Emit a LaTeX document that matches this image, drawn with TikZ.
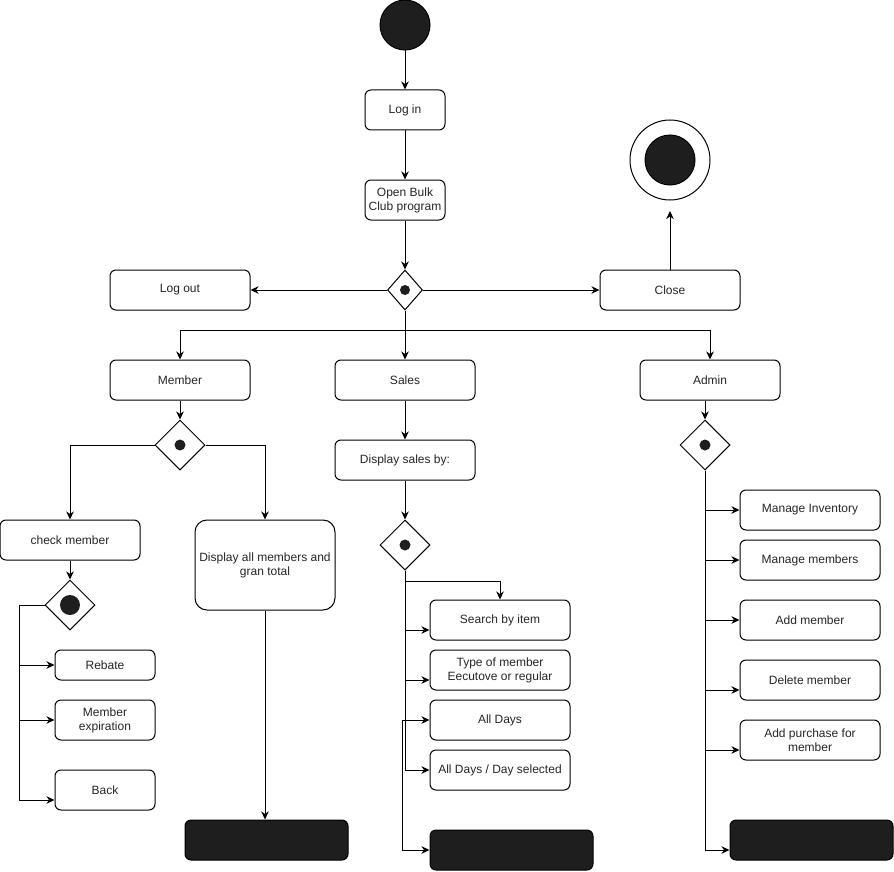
\documentclass[tikz,border=0pt]{standalone}
\usepackage{fontspec}
\setmainfont{Liberation Sans}
\usetikzlibrary{shapes.geometric,arrows.meta,calc}
\definecolor{ink}{HTML}{1E1E1E}
\definecolor{txt}{HTML}{262626}
\begin{document}
\begin{tikzpicture}[x=1pt,y=-1pt,line width=1pt,
  >={Stealth[length=8pt,width=7.5pt,inset=2.5pt]},
  act/.style={draw, rounded corners=6pt, fill=white, minimum width=140pt,
    minimum height=40pt, inner sep=1pt, align=center, text=txt,
    font=\fontsize{12}{14}\selectfont},
  stopbar/.style={draw, rounded corners=6pt, fill=ink, minimum width=163pt,
    minimum height=40pt, inner sep=0pt},
  decision/.style={diamond, draw, fill=white, inner sep=0pt,
    minimum width=50pt, minimum height=50pt},
  dot/.style={path picture={\fill[ink] (path picture bounding box.center) circle (#1);}},
  flow/.style={->}
]
\useasboundingbox (0,0) rectangle (894,872);

% start and end states
\node[circle, draw, fill=ink, minimum size=50pt, inner sep=0pt] (start) at (405,25) {};
\node[circle, draw, fill=white, minimum size=80pt, inner sep=0pt] (final) at (670,160) {};
\node[circle, draw, fill=ink, minimum size=50pt, inner sep=0pt] (finaldot) at (670,160) {};

% main sequence
\node[act, minimum width=80pt] (login) at (405,110) {Log in};
\node[act, minimum width=80pt] (open) at (405,200) {Open Bulk\\Club program};
\node[decision, minimum width=35pt, minimum height=40pt, dot=5pt] (menu) at (405,290) {};
\node[act] (logout) at (180,290) {Log out};
\node[act] (close) at (670,290) {Close};

% three areas
\node[act] (member) at (180,380) {Member};
\node[act] (sales) at (405,380) {Sales};
\node[act] (admin) at (710,380) {Admin};

% member area
\node[decision, dot=5.5pt] (mdec) at (180,445) {};
\node[act] (check) at (70,540) {check member};
\node[act, minimum height=90pt, rounded corners=12pt] (showall) at (265,565) {Display all members and\\gran total};
\node[decision, dot=10pt] (cdec) at (70,605) {};
\node[act, minimum width=100pt, minimum height=30pt] (rebate) at (105,665) {Rebate};
\node[act, minimum width=100pt] (expire) at (105,720) {Member\\expiration};
\node[act, minimum width=100pt] (back) at (105,790) {Back};
\node[stopbar] (mend) at (266.5,840) {};

% sales area
\node[act] (showsales) at (405,460) {Display sales by:};
\node[decision, dot=5.5pt] (sdec) at (405,545) {};
\node[act] (search) at (500,620) {Search by item};
\node[act] (mtype) at (500,670) {Type of member\\Eecutove or regular};
\node[act] (alldays) at (500,720) {All Days};
\node[act] (daysel) at (500,770) {All Days / Day selected};
\node[stopbar] (send) at (511.5,850) {};

% admin area
\node[decision, dot=5.5pt] (adec) at (705,445) {};
\node[act] (inventory) at (810,510) {Manage Inventory};
\node[act] (members) at (810,560) {Manage members};
\node[act] (addm) at (810,620) {Add member};
\node[act] (delm) at (810,680) {Delete member};
\node[act] (purchase) at (810,740) {Add purchase for\\member};
\node[stopbar] (aend) at (811.5,840) {};

% junction points
\coordinate (fork) at (405,330);
\coordinate (closetip) at (670,211);
\coordinate (srail) at (405,581);
\coordinate (loop) at (402.5,720);

% main sequence connectors
\draw[flow] (start) -- (login);
\draw[flow] (login) -- (open);
\draw[flow] (open) -- (menu);
\draw[flow] (menu.west) -- (logout.east);
\draw[flow] (menu.east) -- (close.west);
\draw[flow] (close.north) -- (closetip);
\draw[flow] (menu.south) -- (sales.north);
\draw[flow] (fork) -| (member.north);
\draw[flow] (fork) -| (admin.north);

% member connectors
\draw[flow] (member) -- (mdec);
\draw[flow] (mdec.west) -| (check.north);
\draw[flow] (mdec.east) -| (showall.north);
\draw[flow] (check) -- (cdec);
\draw[flow] (cdec.west) -- ++(-25,0) |- (rebate.west);
\draw[flow] (cdec.west) -- ++(-25,0) |- (expire.west);
\draw[flow] (cdec.west) -- ++(-25,0) |- ($(back.west)+(0,10)$);
\draw[flow] (showall.south) -- (showall.south |- mend.north);

% sales connectors
\draw[flow] (sales) -- (showsales);
\draw[flow] (showsales) -- (sdec);
\draw[flow] (srail) -| (search.north);
\draw[flow] (sdec.south) |- ($(search.west)+(0,10)$);
\draw[flow] (sdec.south) |- ($(mtype.west)+(0,10)$);
\draw[flow] (sdec.south) |- (daysel.west);
\draw[<->] (alldays.west) -- (loop) |- (send.west);

% admin connectors
\draw[flow] (admin.south -| adec.north) -- (adec.north);
\draw[flow] (adec.south) |- (inventory.west);
\draw[flow] (adec.south) |- (members.west);
\draw[flow] (adec.south) |- (addm.west);
\draw[flow] (adec.south) |- ($(delm.west)+(0,10)$);
\draw[flow] (adec.south) |- ($(purchase.west)+(0,10)$);
\draw[flow] (adec.south) |- ($(aend.west)+(0,10)$);
\end{tikzpicture}
\end{document}
